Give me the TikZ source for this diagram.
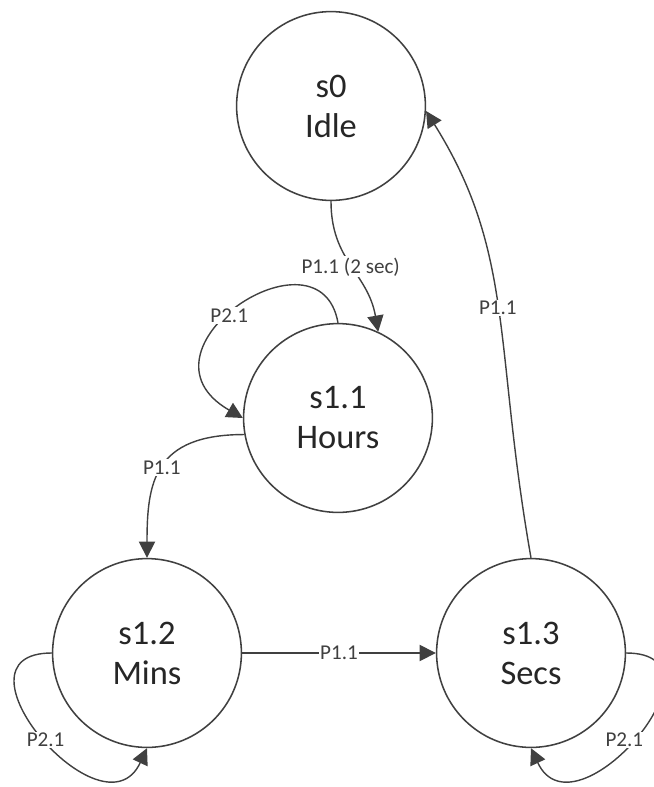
\documentclass[tikz,border=0pt]{standalone}
\usepackage{fontspec}
\setmainfont{Carlito}
\definecolor{linegray}{RGB}{64,64,64}
\definecolor{textgray}{RGB}{38,38,38}
\usetikzlibrary{arrows.meta,positioning}

\begin{document}
\begin{tikzpicture}[
    state/.style={draw=linegray, circle, line width=1.1pt, minimum size=4.72cm, align=center, text=textgray, font=\fontsize{24.5}{28.5}\selectfont},
    lbl/.style={fill=white, inner sep=1pt, text=linegray, font=\fontsize{15}{17}\selectfont},
    edge/.style={draw=linegray, line width=1pt, -{Triangle[length=11.5pt, width=11.5pt]}}]
    \useasboundingbox (0,0) rectangle (16.325,-19.675);

    % States
    \node[state] (idle) at (8.275,-2.65) {s0\\Idle};
    \node[state] (hours) at (8.45,-10.45) {s1.1\\Hours};
    \node[state] (mins) at (3.675,-16.325) {s1.2\\Mins};
    \node[state] (secs) at (13.275,-16.325) {s1.3\\Secs};

    % Transitions
    \draw[edge] (idle.south) .. controls +(-90:1.5) and +(100:1.5) .. node[lbl] {P1.1 (2 sec)} (hours.65);
    \draw[edge] (hours.north) .. controls +(100:2.6) and +(150:3.4) .. node[lbl, pos=0.55] {P2.1} (hours.west);
    \draw[edge] (hours.190) .. controls +(180:2.25) and +(90:1.9) .. node[lbl] {P1.1} (mins.north);
    \draw[edge] (mins) -- node[lbl] {P1.1} (secs);
    \draw[edge] (mins.west) .. controls +(180:2.75) and +(-115:2.6) .. node[lbl, pos=0.52] {P2.1} (mins.south);
    \draw[edge] (secs.east) .. controls +(0:2.75) and +(-65:2.6) .. node[lbl, pos=0.52, xshift=-0.2cm] {P2.1} (secs.south);
    \draw[edge] (secs.north) .. controls +(100:5.4) and +(-58:4.2) .. node[lbl] {P1.1} (idle.-3);
\end{tikzpicture}
\end{document}
